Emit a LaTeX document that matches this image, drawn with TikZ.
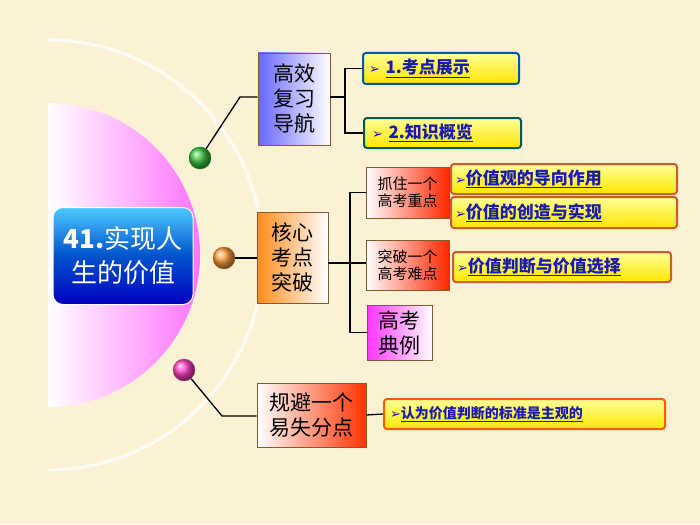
\documentclass[tikz,border=0pt]{standalone}
\usepackage{fontspec}
\setmainfont{Noto Sans CJK SC}
\newfontfamily\dv{DejaVu Sans}
\usetikzlibrary{shadows}
\definecolor{bg}{HTML}{FBF2D6}
\definecolor{lnk}{HTML}{1A1AB0}
\tikzset{
 conn/.style={line width=1.3pt,black},
 ball/.style={circle,minimum size=22pt,inner sep=0pt,draw=#1!70!black,shading=ball,ball color=#1!75!white},
 bx/.style={draw=brown!70!black,line width=0.6pt,align=center,inner sep=1pt,font=\fontsize{21}{25}\selectfont},
 sbx/.style={bx,font=\fontsize{15}{17}\selectfont},
 tile/.style={draw=#1,line width=2pt,rounded corners=3pt,top color=yellow!40,bottom color=yellow!80!orange,anchor=west,inner sep=0pt,align=left,font=\bfseries\fontsize{17}{19}\selectfont,text=lnk},
}
\newcommand{\arr}{{\dv\fontsize{13}{14}\selectfont ➢}}
\newcommand{\lk}[1]{\underline{#1}}
\begin{document}
\begin{tikzpicture}[x=1pt,y=-1pt]
\fill[bg] (0,0) rectangle (700,524);
\useasboundingbox (0,0) rectangle (700,524);
% faint arc
\draw[white!70!bg,line width=3pt] (48,40) arc[start angle=-90,end angle=90,radius=215];
\shade[left color=white,right color=magenta!55] (48,103) arc[start angle=-90,end angle=90,radius=152] -- cycle;
\node[draw=white,line width=1pt,rounded corners=10pt,top color=blue!30!cyan!70,bottom color=blue!75!black,middle color=blue!60!cyan!80!black,minimum width=140pt,minimum height=97pt,text=white,align=center,font=\fontsize{26}{34}\selectfont] (c) at (123,256) {\textbf{41.}实现人\\生的价值};
\node[ball=green!70!black] (g) at (200,158) {};
\node[ball=orange] (o) at (224,258) {};
\node[ball=magenta!70!red] (p) at (184,370) {};
% level 1 boxes
\node[bx,left color=blue!60,right color=white,minimum width=72pt,minimum height=92pt] (b1) at (294,99) {高效\\复习\\导航};
\node[bx,left color=orange!90,right color=white,minimum width=71pt,minimum height=91pt] (b2) at (292.5,257.5) {核心\\考点\\突破};
\node[bx,left color=white,right color=red!60!orange,minimum width=109pt,minimum height=64pt] (b3) at (311.5,415) {规避一个\\易失分点};
\coordinate (k1) at (240,97);
\coordinate (k3) at (222,416);
\draw[conn] (g) -- (k1) -- (k1 -| b1.west);
\draw[conn] (o) -- (o -| b2.west);
\draw[conn] (p) -- (k3) -- (k3 -| b3.west);
% branch 1
\node[tile=teal!70!blue,text width=156pt,minimum height=31pt] (t1) at (362,68.5) {\hspace{6pt}\arr\ \lk{1.考点展示}};
\node[tile=teal!70!black,text width=157pt,minimum height=30pt] (t2) at (363,133) {\hspace{8pt}\arr\ \lk{2.知识概览}};
\coordinate (s1) at (345,97);
\draw[conn] (b1.east |- s1) -- (s1) |- (t1.west);
\draw[conn] (s1) |- (t2.west);
% branch 2
\node[sbx,left color=white,right color=red!70!orange,minimum width=83pt,minimum height=51pt] (m1) at (407.5,192.5) {抓住一个\\高考重点};
\node[sbx,left color=white,right color=red!70!orange,minimum width=83pt,minimum height=50pt] (m2) at (407.5,265) {突破一个\\高考难点};
\node[bx,left color=magenta!80,right color=white,minimum width=65pt,minimum height=55pt] (m3) at (399.5,332.5) {高考\\典例};
\coordinate (s2) at (350,263);
\draw[conn] (b2.east |- s2) -- (s2);
\draw[conn] (s2) |- (m1.west);
\draw[conn] (s2) -- (m2.west |- s2);
\draw[conn] (s2) |- (m3.west);
\node[tile=brown!70!red,text width=226pt,minimum height=30pt] (u1) at (450,179) {\hspace{4pt}\arr\lk{价值观的导向作用}};
\node[tile=brown!70!red,text width=226pt,minimum height=31pt] (u2) at (450,212.5) {\hspace{4pt}\arr\lk{价值的创造与实现}};
\node[tile=brown!70!red,text width=218pt,minimum height=30pt] (u3) at (452,267) {\hspace{4pt}\arr\lk{价值判断与价值选择}};
% branch 3
\node[tile=orange!70!red,text width=281pt,minimum height=30pt,font=\bfseries\fontsize{14}{16}\selectfont] (v1) at (383,414) {\hspace{6pt}\arr\lk{认为价值判断的标准是主观的}};
\draw[conn] (b3.east) -- (v1.west);
\end{tikzpicture}
\end{document}
